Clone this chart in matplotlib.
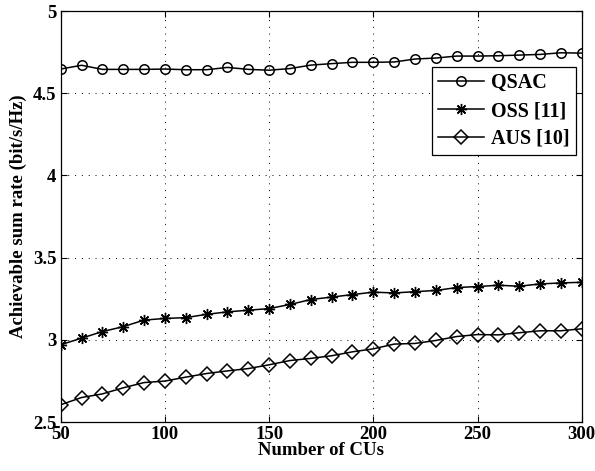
import matplotlib
matplotlib.use("Agg")
import matplotlib.pyplot as plt
import numpy as np

num_cus = [50, 60, 70, 80, 90, 100, 110, 120, 130, 140, 150, 160, 170,
           180, 190, 200, 210, 220, 230, 240, 250, 260, 270, 280, 290, 300]
qsac = [4.647, 4.670, 4.645, 4.645, 4.645, 4.647, 4.643, 4.643, 4.657, 4.645,
        4.640, 4.650, 4.671, 4.680, 4.688, 4.688, 4.690, 4.708, 4.714, 4.726,
        4.726, 4.728, 4.732, 4.736, 4.746, 4.744]
oss = [2.970, 3.010, 3.050, 3.080, 3.120, 3.130, 3.135, 3.155, 3.170, 3.180,
       3.190, 3.215, 3.245, 3.260, 3.275, 3.290, 3.285, 3.293, 3.300, 3.318,
       3.324, 3.332, 3.326, 3.340, 3.346, 3.350]
aus = [2.605, 2.649, 2.671, 2.708, 2.740, 2.749, 2.773, 2.795, 2.811, 2.825,
       2.848, 2.874, 2.887, 2.903, 2.927, 2.945, 2.974, 2.978, 2.996, 3.020,
       3.032, 3.030, 3.043, 3.055, 3.055, 3.067]

x_ticks = [50, 100, 150, 200, 250, 300]
y_ticks = [2.5, 3, 3.5, 4, 4.5, 5]
y_tick_labels = ["2.5", "3", "3.5", "4", "4.5", "5"]

plt.rcParams['font.family'] = ['Liberation Serif', 'DejaVu Serif']
plt.rcParams['font.weight'] = 'bold'

fig = plt.figure(figsize=(5.95, 4.71), dpi=100)
ax = fig.add_axes([0.102, 0.104, 0.8757, 0.8726])

lw = 1.1
ax.plot(num_cus, qsac, color='black', lw=lw, marker='o', markersize=6.8,
        markerfacecolor='none', markeredgecolor='black', markeredgewidth=1.1, label='QSAC')
ax.plot(num_cus, oss, color='black', lw=lw, marker=(8, 2, 0), markersize=8,
        markeredgewidth=1.0, label='OSS [11]')
ax.plot(num_cus, aus, color='black', lw=lw, marker='D', markersize=7.5,
        markerfacecolor='none', markeredgecolor='black', markeredgewidth=1.1, label='AUS [10]')

ax.set_xlim(50, 300)
ax.set_ylim(2.5, 5)
ax.set_xticks(x_ticks)
ax.set_yticks(y_ticks)
ax.set_yticklabels(y_tick_labels)
ax.tick_params(direction='in', length=4, width=0.8, labelsize=13.5,
               top=True, right=True, pad=3)
for lab in ax.get_xticklabels() + ax.get_yticklabels():
    lab.set_fontweight('bold')

ax.grid(True, linestyle=(0, (1, 6)), color='black', linewidth=0.7)
for s in ax.spines.values():
    s.set_linewidth(0.9)

ax.set_xlabel('Number of CUs', fontsize=13.5, fontweight='bold', labelpad=-1)
ax.set_ylabel('Achievable sum rate (bit/s/Hz)', fontsize=13.5, fontweight='bold', labelpad=4)

leg = ax.legend(loc='upper right', bbox_to_anchor=(0.989, 0.863), fontsize=14.5,
                frameon=True, fancybox=False, edgecolor='black', framealpha=1,
                handlelength=2.3, borderpad=0.3, labelspacing=0.38,
                handletextpad=0.35, borderaxespad=0)
leg.get_frame().set_linewidth(0.9)
for t in leg.get_texts():
    t.set_fontweight('bold')

fig.savefig('out.png', dpi=100)
